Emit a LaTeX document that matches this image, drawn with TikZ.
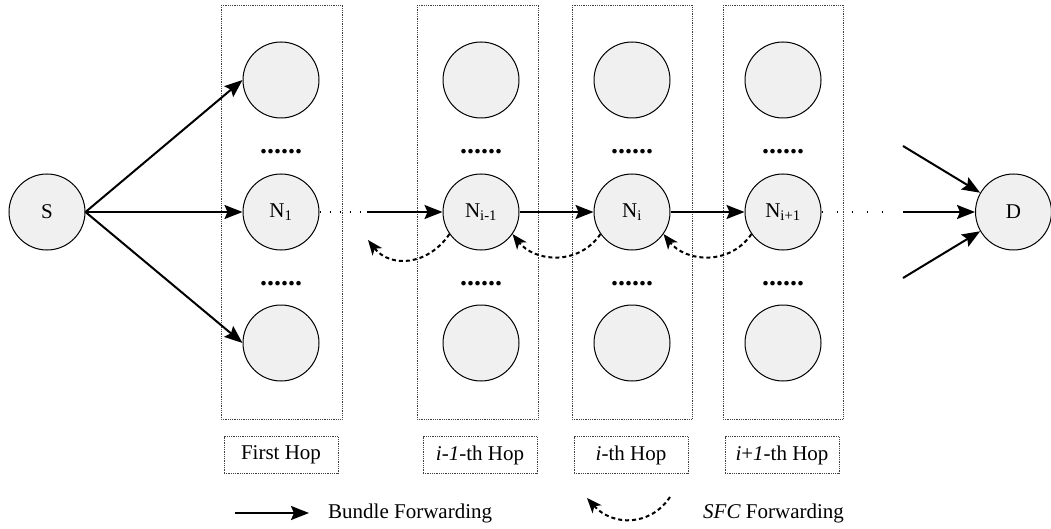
\documentclass[tikz,border=0pt]{standalone}
\usepackage{fontspec}
\setmainfont{Liberation Serif}
\usetikzlibrary{arrows.meta}

\begin{document}
\begin{tikzpicture}[x=1pt,y=-1pt,
  font=\fontsize{21}{25}\selectfont,
  nd/.style={circle,draw=black,line width=1pt,fill=black!6,minimum size=76pt,inner sep=0pt},
  hopbox/.style={draw=black!75,line width=0.9pt,dash pattern=on 0.9pt off 0.9pt},
  lbl/.style={hopbox,minimum width=114pt,minimum height=37pt,inner sep=0pt},
  fwd/.style={line width=2pt,-{Stealth[length=18pt,width=14pt,inset=3pt]}},
  sfc/.style={line width=2pt,dash pattern=on 4pt off 3pt,-{Stealth[length=15pt,width=12pt,inset=4pt]}},
  gap/.style={line width=1.6pt,dash pattern=on 1.6pt off 8.4pt},
  widegap/.style={line width=1.6pt,dash pattern=on 1.6pt off 13.4pt},
  dots/.style={font=\fontsize{28}{30}\selectfont\bfseries,anchor=base,inner sep=0pt}
]
\useasboundingbox (0,0) rectangle (1051,529);

% hop columns
\draw[hopbox] (221,5) rectangle (342,419);
\draw[hopbox] (417,5) rectangle (538,419);
\draw[hopbox] (572,5) rectangle (692,419);
\draw[hopbox] (723,5) rectangle (843,419);

% source and destination
\node[nd] (S) at (47,212) {S};
\node[nd] (D) at (1013.5,212) {D};

% nodes of each hop
\node[nd] (t1) at (281,80) {};
\node[nd] (N1) at (281,212) {N\textsubscript{1}};
\node[nd] (b1) at (281,343) {};

\node[nd] (t2) at (481,80) {};
\node[nd] (Nim) at (481,212) {N\textsubscript{i-1}};
\node[nd] (b2) at (481,343) {};

\node[nd] (t3) at (632,80) {};
\node[nd] (Ni) at (632,212) {N\textsubscript{i}};
\node[nd] (b3) at (632,343) {};

\node[nd] (t4) at (783,80) {};
\node[nd] (Nip) at (783,212) {N\textsubscript{i+1}};
\node[nd] (b4) at (783,343) {};

% ellipses between the nodes
\foreach \x/\n in {281/a,481/b,632/c,783/d}{
  \node[dots] (du\n) at (\x,154) {......};
  \node[dots] (dl\n) at (\x,285) {......};
}

% hop labels
\node[lbl] (l1) at (281,455) {First Hop};
\node[lbl] (l2) at (480,455) {\textit{i-1}-th Hop};
\node[lbl] (l3) at (631,455) {\textit{i}-th Hop};
\node[lbl] (l4) at (782,455) {\textit{i}+\textit{1}-th Hop};

% bundle forwarding
\draw[fwd] (S.east) -- (t1.west);
\draw[fwd] (S.east) -- (N1.west);
\draw[fwd] (S.east) -- (b1.west);

\coordinate (g1) at (362,212);
\coordinate (g2) at (367,212);
\draw[gap] (N1.east) -- (g1);
\draw[fwd] (g2) -- (Nim.west);
\draw[fwd] (Nim.east) -- (Ni.west);
\draw[fwd] (Ni.east) -- (Nip.west);

\coordinate (g3) at (893,212);
\coordinate (g4) at (903,212);
\draw[widegap] (Nip.east) -- (g3);
\draw[fwd] (g4) -- (D.west);

\coordinate (da) at (903,146);
\coordinate (db) at (903,278);
\draw[fwd] (da) -- (D.150);
\draw[fwd] (db) -- (D.210);

% SFC forwarding
\coordinate (s0) at (368,240);
\draw[sfc] (Nim.-145) .. controls +(-22,32) and +(22,28) .. (s0);
\draw[sfc] (Ni.-145) .. controls +(-22,32) and +(22,28) .. (Nim.-35);
\draw[sfc] (Nip.-145) .. controls +(-22,32) and +(22,28) .. (Ni.-35);

% legend
\coordinate (la) at (235,513);
\coordinate (lb) at (309,513);
\draw[fwd] (la) -- (lb);
\node[anchor=west,inner sep=0pt] (lt1) at (328,513) {Bundle Forwarding};

\coordinate (lc) at (670,497);
\coordinate (ld) at (587,498);
\draw[sfc] (lc) .. controls +(-20,30) and +(25,28) .. (ld);
\node[anchor=west,inner sep=0pt] (lt2) at (703,513) {\textit{SFC} Forwarding};
\end{tikzpicture}
\end{document}
